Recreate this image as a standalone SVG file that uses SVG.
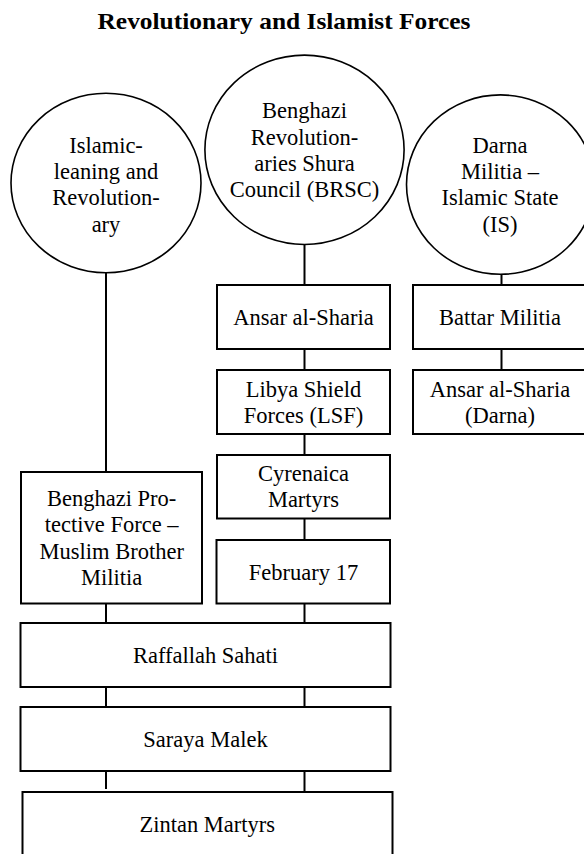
<svg xmlns="http://www.w3.org/2000/svg" width="584" height="854" viewBox="0 0 584 854">
<style>
text{font-family:"Liberation Serif","Times New Roman",serif;font-size:22.5px;fill:#000;text-anchor:middle}
.title{font-weight:bold;font-size:24px}
.box{fill:#fff;stroke:#000;stroke-width:2}
.circ{fill:#fff;stroke:#000;stroke-width:1.6}
.conn line{stroke:#000;stroke-width:2}
</style>
<rect width="584" height="854" fill="#fff"/>
<text class="title" x="284" y="28.5" textLength="373" lengthAdjust="spacingAndGlyphs">Revolutionary and Islamist Forces</text>
<g class="conn" id="connectors">
<line x1="106" y1="273" x2="106" y2="472"/>
<line x1="106" y1="603" x2="106" y2="623"/>
<line x1="106" y1="687" x2="106" y2="707"/>
<line x1="106" y1="771" x2="106" y2="789"/>
<line x1="304.5" y1="245" x2="304.5" y2="285"/>
<line x1="304.5" y1="349" x2="304.5" y2="370"/>
<line x1="304.5" y1="434" x2="304.5" y2="455"/>
<line x1="304.5" y1="518" x2="304.5" y2="540"/>
<line x1="304.5" y1="603" x2="304.5" y2="623"/>
<line x1="304.5" y1="687" x2="304.5" y2="707"/>
<line x1="304.5" y1="771" x2="304.5" y2="792"/>
<line x1="501.5" y1="274" x2="501.5" y2="285"/>
<line x1="501.5" y1="349" x2="501.5" y2="370"/>
</g>
<g id="islamic-leaning">
<ellipse class="circ" cx="106" cy="183" rx="95" ry="89.7"/>
<text x="106" y="152.7">Islamic-</text>
<text x="106" y="179">leaning and</text>
<text x="106" y="205.3">Revolution-</text>
<text x="106" y="231.6">ary</text>
</g>
<g id="brsc">
<ellipse class="circ" cx="304.5" cy="149.8" rx="99.6" ry="94.7"/>
<text x="304.5" y="118.3">Benghazi</text>
<text x="304.5" y="144.6">Revolution-</text>
<text x="304.5" y="170.9">aries Shura</text>
<text x="304.5" y="197.2">Council (BRSC)</text>
</g>
<g id="darna">
<ellipse class="circ" cx="500.5" cy="184.6" rx="94" ry="89.7"/>
<text x="500" y="152.7">Darna</text>
<text x="500" y="179">Militia –</text>
<text x="500" y="205.3">Islamic State</text>
<text x="500" y="231.6">(IS)</text>
</g>
<g id="ansar">
<rect class="box" x="217" y="285" width="173" height="64"/>
<text x="303.5" y="325">Ansar al-Sharia</text>
</g>
<g id="lsf">
<rect class="box" x="217" y="370" width="173" height="64"/>
<text x="303.5" y="396.7">Libya Shield</text>
<text x="303.5" y="423.3">Forces (LSF)</text>
</g>
<g id="cyrenaica">
<rect class="box" x="217" y="455" width="173" height="63.5"/>
<text x="303.5" y="480.5">Cyrenaica</text>
<text x="303.5" y="507">Martyrs</text>
</g>
<g id="feb17">
<rect class="box" x="216.5" y="540" width="173.5" height="63.5"/>
<text x="303.5" y="580">February 17</text>
</g>
<g id="bpf">
<rect class="box" x="21" y="472" width="181" height="131.5"/>
<text x="111.7" y="506">Benghazi Pro-</text>
<text x="111.7" y="532.3">tective Force –</text>
<text x="111.7" y="558.6">Muslim Brother</text>
<text x="111.7" y="585">Militia</text>
</g>
<g id="raffallah">
<rect class="box" x="20.5" y="623" width="370" height="64"/>
<text x="205.5" y="662.7">Raffallah Sahati</text>
</g>
<g id="saraya">
<rect class="box" x="20.5" y="707" width="370" height="64"/>
<text x="205.5" y="747">Saraya Malek</text>
</g>
<g id="zintan">
<rect class="box" x="22.5" y="792" width="370" height="64"/>
<text x="207.3" y="831.7">Zintan Martyrs</text>
</g>
<g id="battar">
<rect class="box" x="413" y="285" width="174" height="64"/>
<text x="500" y="325">Battar Militia</text>
</g>
<g id="ansar-darna">
<rect class="box" x="413" y="370" width="174" height="64"/>
<text x="500" y="396.7">Ansar al-Sharia</text>
<text x="500" y="423.3">(Darna)</text>
</g>
</svg>
